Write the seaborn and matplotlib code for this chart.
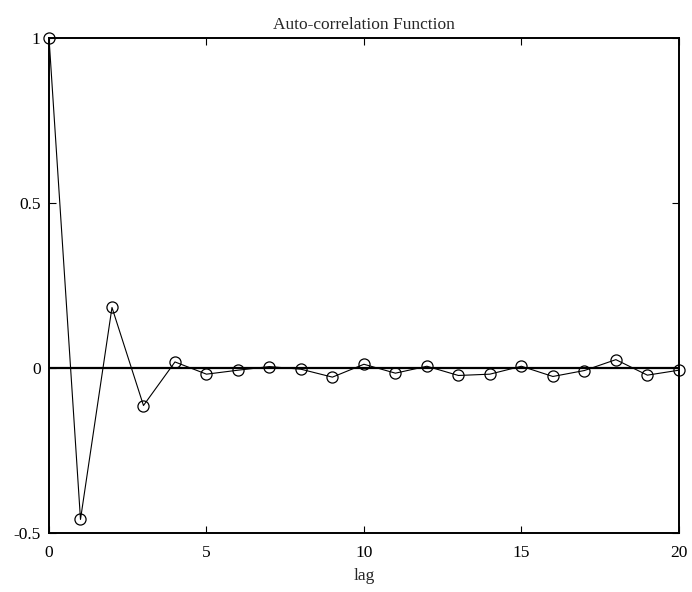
import matplotlib
matplotlib.use("Agg")
import matplotlib.pyplot as plt
import seaborn as sns
import pandas as pd

lags = list(range(21))
acf = [1.0, -0.459, 0.183, -0.114, 0.018, -0.019, -0.007, 0.004, -0.004, -0.028,
       0.011, -0.016, 0.005, -0.023, -0.019, 0.005, -0.026, -0.008, 0.025, -0.022, -0.007]
xticks = [0, 5, 10, 15, 20]
yticks = [-0.5, 0, 0.5, 1]

sns.set_style("white")
plt.rcParams['font.family'] = ['Liberation Serif', 'DejaVu Serif']

df = pd.DataFrame({"lag": lags, "acf": acf})

fig = plt.figure(figsize=(6.92, 5.92), dpi=100)
ax = fig.add_axes([0.0708, 0.0997, 0.981 - 0.0708, 0.9363 - 0.0997])

ax.axhline(0, color="black", linewidth=1.6, zorder=1)
sns.lineplot(data=df, x="lag", y="acf", ax=ax, color="black", linewidth=0.8,
             marker="o", markersize=8, markerfacecolor="none",
             markeredgecolor="black", markeredgewidth=0.9, zorder=3, clip_on=False)

ax.set_xlim(0, 20)
ax.set_ylim(-0.5, 1)
ax.set_xticks(xticks)
ax.set_yticks(yticks)
ax.set_xticklabels([str(t) for t in xticks])
ax.set_yticklabels(["-0.5", "0", "0.5", "1"])
ax.tick_params(direction="in", length=5, width=0.8, labelsize=12.5, colors="black",
               top=True, right=True, bottom=True, left=True)
ax.tick_params(axis="x", pad=9)
ax.tick_params(axis="y", pad=6)
for s in ax.spines.values():
    s.set_visible(True)
    s.set_color("black")
    s.set_linewidth(1.4)
ax.set_xlabel("lag", fontsize=12.5, labelpad=5)
ax.set_ylabel("")
ax.set_title("Auto-correlation Function", fontsize=12.5, pad=6)

fig.savefig("out.png", dpi=100, facecolor="white")
